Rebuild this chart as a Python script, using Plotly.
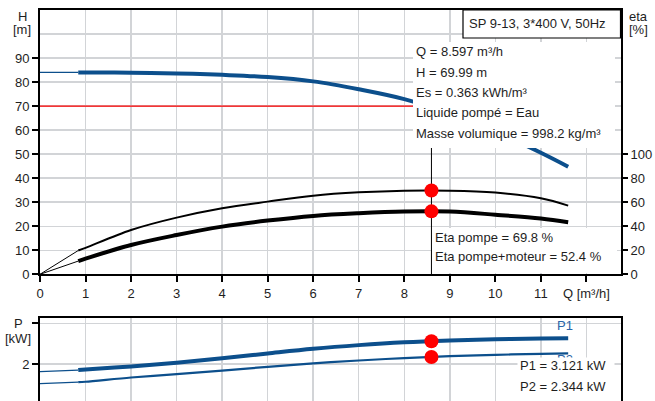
import plotly.graph_objects as go

# ---------------- data ----------------
Q = [0.84, 1, 2, 3, 4, 5, 6, 7, 8, 9, 10, 11, 11.6]
H = [84.0, 84.0, 83.9, 83.6, 83.0, 82.1, 80.3, 77.0, 72.9, 66.9, 59.5, 50.6, 44.8]
ETA_PUMP = [19.8, 22.0, 36.9, 47.2, 55.0, 60.5, 65.4, 68.2, 69.6, 69.6, 68.0, 63.3, 57.2]
ETA_TOTAL = [11.0, 13.0, 24.4, 32.7, 39.7, 44.7, 48.6, 50.8, 52.2, 52.2, 49.6, 46.4, 43.3]
P1 = [1.70, 1.73, 1.88, 2.06, 2.28, 2.52, 2.75, 2.93, 3.07, 3.16, 3.22, 3.26, 3.27]
P2 = [1.10, 1.12, 1.33, 1.50, 1.67, 1.86, 2.03, 2.17, 2.29, 2.385, 2.45, 2.50, 2.52]

Q0 = [0, 0.84]
H0 = [84.0, 84.0]
ETA_PUMP0 = [0, 19.8]
ETA_TOTAL0 = [0, 11.0]
P1_0 = [1.62, 1.70]
P2_0 = [1.03, 1.10]

Q_OP = 8.597
H_OP = 69.99
ETA_PUMP_OP = 69.8
ETA_TOTAL_OP = 52.4
P1_OP = 3.121
P2_OP = 2.344

X_TICKS = list(range(0, 13))
X_TICKTEXT = [str(i) for i in range(12)] + ["Q [m³/h]"]
H_TICKS = list(range(0, 100, 10))
ETA_TICKS = list(range(0, 101, 20))

INFO_LINES = ["Q = 8.597 m³/h", "H = 69.99 m", "Es = 0.363 kWh/m³",
              "Liquide pompé = Eau", "Masse volumique = 998.2 kg/m³"]
ETA_LINES = ["Eta pompe = 69.8 %", "Eta pompe+moteur = 52.4 %"]
P_LINES = ["P1 = 3.121 kW", "P2 = 2.344 kW"]
MODEL = "SP 9-13, 3*400 V, 50Hz"

# ---------------- style ----------------
W, HGT = 655, 401
ML, MR, MT, MB = 40, 34, 10, 0
PW = W - ML - MR
PH = HGT - MT - MB
BLUE = "#0c4f8c"
GRID = "#d2d4d7"
TXT = "#1e1e1e"
FONT = "Liberation Sans, Arial, sans-serif"


def px(x):
    return (x - ML) / PW


def py(y):
    return (HGT - MB - y) / PH


fig = go.Figure()

# main panel curves
fig.add_trace(go.Scatter(x=Q0, y=H0, mode="lines", line=dict(color=BLUE, width=1.2), xaxis="x", yaxis="y"))
fig.add_trace(go.Scatter(x=Q, y=H, mode="lines", line=dict(color=BLUE, width=4, shape="spline"), xaxis="x", yaxis="y"))
fig.add_trace(go.Scatter(x=[0, Q_OP], y=[H_OP, H_OP], mode="lines", line=dict(color="#ff0000", width=1.3), xaxis="x", yaxis="y"))
fig.add_trace(go.Scatter(x=[Q_OP, Q_OP], y=[0, H_OP], mode="lines", line=dict(color="#000000", width=1), xaxis="x", yaxis="y"))

fig.add_trace(go.Scatter(x=Q0, y=ETA_PUMP0, mode="lines", line=dict(color="black", width=1), xaxis="x", yaxis="y2"))
fig.add_trace(go.Scatter(x=Q0, y=ETA_TOTAL0, mode="lines", line=dict(color="black", width=1), xaxis="x", yaxis="y2"))
fig.add_trace(go.Scatter(x=Q, y=ETA_PUMP, mode="lines", line=dict(color="black", width=2, shape="spline"), xaxis="x", yaxis="y2"))
fig.add_trace(go.Scatter(x=Q, y=ETA_TOTAL, mode="lines", line=dict(color="black", width=4, shape="spline"), xaxis="x", yaxis="y2"))
fig.add_trace(go.Scatter(x=[Q_OP, Q_OP], y=[ETA_PUMP_OP, ETA_TOTAL_OP], mode="markers",
                         marker=dict(color="#ff0000", size=14), xaxis="x", yaxis="y2"))

# power panel
fig.add_trace(go.Scatter(x=Q0, y=P1_0, mode="lines", line=dict(color=BLUE, width=1.2), xaxis="x2", yaxis="y3"))
fig.add_trace(go.Scatter(x=Q0, y=P2_0, mode="lines", line=dict(color=BLUE, width=1.2), xaxis="x2", yaxis="y3"))
fig.add_trace(go.Scatter(x=Q, y=P1, mode="lines", line=dict(color=BLUE, width=4, shape="spline"), xaxis="x2", yaxis="y3"))
fig.add_trace(go.Scatter(x=Q, y=P2, mode="lines", line=dict(color=BLUE, width=2.2, shape="spline"), xaxis="x2", yaxis="y3"))
fig.add_trace(go.Scatter(x=[Q_OP, Q_OP], y=[P1_OP, P2_OP], mode="markers",
                         marker=dict(color="#ff0000", size=14), xaxis="x2", yaxis="y3"))

axis_common = dict(showline=True, linecolor="black", linewidth=2, ticks="outside",
                   tickcolor="black", tickwidth=2, ticklen=6, zeroline=False, automargin=False,
                   tickfont=dict(family=FONT, size=13, color=TXT), fixedrange=True)

fig.update_layout(
    width=W, height=HGT,
    margin=dict(l=ML, r=MR, t=MT, b=MB, pad=0),
    paper_bgcolor="white", plot_bgcolor="white",
    showlegend=False,
    hovermode=False,
    xaxis=dict(**axis_common, range=[0, 12.76], domain=[0, 1], anchor="y",
               tickvals=X_TICKS, ticktext=X_TICKTEXT, mirror=True,
               showgrid=True, gridcolor=GRID, gridwidth=1.5),
    yaxis=dict(**axis_common, range=[0, 110], domain=[py(274.3), 1], anchor="x",
               tickvals=H_TICKS, mirror=True,
               showgrid=True, gridcolor=GRID, gridwidth=1.5,
               minor=dict(dtick=10, tick0=0, showgrid=True, gridcolor=GRID, gridwidth=1.5, ticks="")),
    yaxis2=dict(**{k: v for k, v in axis_common.items() if k != "showline"}, showline=False,
                range=[0, 220], overlaying="y", side="right", anchor="x",
                tickvals=ETA_TICKS, showgrid=False),
    xaxis2=dict(showline=True, linecolor="black", linewidth=2, range=[0, 12.76], domain=[0, 1],
                anchor="y3", side="top", tickvals=X_TICKS, showticklabels=False, ticks="",
                showgrid=True, gridcolor=GRID, gridwidth=1.5, zeroline=False, fixedrange=True,
                automargin=False),
    yaxis3=dict(**axis_common, range=[0.17, 4.27], domain=[0, py(318)], anchor="x2",
                tickvals=[2, 4], ticktext=["2", " "], mirror=True,
                showgrid=True, gridcolor=GRID, gridwidth=1.5),
)

shapes = []
# white label backgrounds (above traces and grid)
for (x0, x1, y0, y1) in [(413, 615, 42, 148), (432, 617, 228, 273)]:
    shapes.append(dict(type="rect", xref="paper", yref="paper", x0=px(x0), x1=px(x1),
                       y0=py(y1), y1=py(y0), fillcolor="white", line=dict(width=0), layer="above"))
# model box
shapes.append(dict(type="rect", xref="paper", yref="paper", x0=px(463), x1=px(620.5),
                   y0=py(38), y1=py(10), fillcolor="white", line=dict(color="black", width=1.2), layer="above"))
fig.update_layout(shapes=shapes)

ann = []
def text(x, y, s, anchor="left", color=TXT, size=13):
    ann.append(dict(xref="paper", yref="paper", x=px(x), y=py(y), text=s, showarrow=False,
                    xanchor=anchor, yanchor="middle", font=dict(family=FONT, size=size, color=color)))

text(467, 24, MODEL)
for i, s in enumerate(INFO_LINES):
    text(414, 52 + i * 20.3, s)
for i, s in enumerate(ETA_LINES):
    text(433, 237 + i * 19.5, s)
text(565, 325, "P1", anchor="center", color="#2a64a8")
text(565, 359, "P2", anchor="center", color="#2a64a8")
# white cover box for the power readout (drawn over the P2 label)
ann.append(dict(xref="paper", yref="paper", x=px(517), y=py(357), xanchor="left", yanchor="top",
                text=" ", showarrow=False, width=96, height=46, bgcolor="white", borderpad=0,
                font=dict(size=4)))
for i, s in enumerate(P_LINES):
    text(518, 365 + i * 21, s)
text(22, 16, "H", anchor="center")
text(22, 30, "[m]", anchor="center")
text(638, 16, "eta", anchor="center")
text(638, 30, "[%]", anchor="center")
text(18, 323, "P", anchor="center")
text(18, 338, "[kW]", anchor="center")
text(28, 405, "0", anchor="right")
fig.update_layout(annotations=ann)

fig.write_html("out.html", config={"displayModeBar": False, "staticPlot": True},
               post_script="document.body.style.margin='0';document.body.style.padding='0';")
